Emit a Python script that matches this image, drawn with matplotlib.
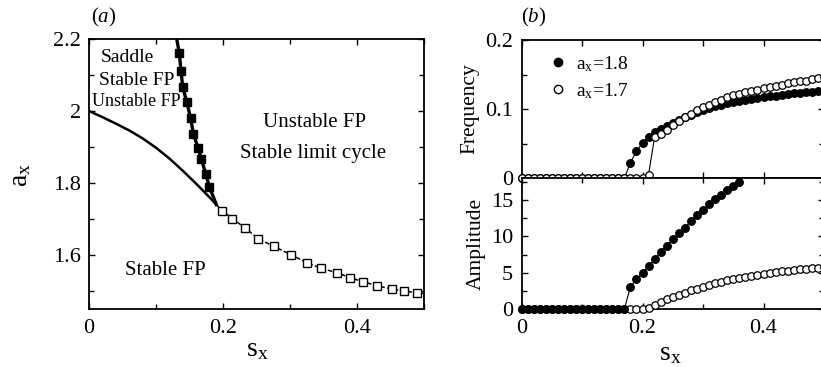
import matplotlib
matplotlib.use('Agg')
import matplotlib.pyplot as plt
from matplotlib.ticker import MultipleLocator, FuncFormatter
from matplotlib.lines import Line2D

plt.rcParams['font.family'] = ['Liberation Serif', 'DejaVu Serif']
plt.rcParams['mathtext.fontset'] = 'custom'
plt.rcParams['mathtext.rm'] = 'Liberation Serif'
plt.rcParams['mathtext.it'] = 'Liberation Serif:italic'

# ---------------- data: panel (a) ----------------
# lower solid boundary
s_lower = [0.0, 0.02, 0.04, 0.06, 0.08, 0.10, 0.12, 0.14, 0.16, 0.18, 0.19]
a_lower = [2.0, 1.983, 1.965, 1.946, 1.924, 1.898, 1.868, 1.834, 1.798, 1.760, 1.740]
# steep boundary with filled squares (first/last are line end points)
s_steep = [0.1305, 0.1348, 0.1373, 0.1398, 0.1458, 0.1517, 0.1557, 0.1627, 0.1676, 0.1741, 0.1796, 0.19]
a_steep = [2.205, 2.160, 2.1125, 2.0675, 2.0255, 1.980, 1.937, 1.898, 1.868, 1.826, 1.790, 1.740]
# dashed boundary with open squares (first/last are line end points)
s_dash = [0.19, 0.198, 0.214, 0.233, 0.2527, 0.2761, 0.3015, 0.3249, 0.3463, 0.3697, 0.3896,
          0.4094, 0.4294, 0.4518, 0.4706, 0.490, 0.50]
a_dash = [1.740, 1.7236, 1.7013, 1.675, 1.6453, 1.6238, 1.6006, 1.579, 1.5631, 1.551, 1.537,
          1.5259, 1.5147, 1.5055, 1.4999, 1.4951, 1.493]

# ---------------- data: panel (b) ----------------
s_b = [round(0.01 * i, 2) for i in range(51)]
# a_x = 1.8 (filled)
freq_18 = [0.0] * 18 + [0.022, 0.039, 0.051, 0.060, 0.0665, 0.071, 0.0755, 0.080, 0.084, 0.088,
                        0.0915, 0.095, 0.099, 0.1015, 0.104, 0.106, 0.108, 0.110, 0.1115, 0.113,
                        0.1145, 0.116, 0.1172, 0.1183, 0.1194, 0.1205, 0.1215, 0.1225, 0.1233,
                        0.1241, 0.1248, 0.1255, 0.126]
amp_18 = [0.0] * 18 + [3.1, 4.1, 5.0, 5.95, 6.9, 7.9, 8.7, 9.6, 10.4, 11.2, 12.1, 12.9, 13.6,
                       14.4, 15.1, 15.7, 16.3, 16.9, 17.5]
s_amp18 = s_b[:len(amp_18)]
# a_x = 1.7 (open)
freq_17 = [0.0] * 21 + [0.005, 0.0595, 0.064, 0.070, 0.0763, 0.082, 0.0884, 0.0932, 0.098,
                        0.1023, 0.1062, 0.1096, 0.1134, 0.1168, 0.1197, 0.1216, 0.124, 0.126,
                        0.1279, 0.1298, 0.1318, 0.1337, 0.1351, 0.1375, 0.139, 0.1399, 0.1413,
                        0.1433, 0.1446, 0.146]
amp_17 = [0.0] * 21 + [0.15, 0.6, 1.0, 1.35, 1.7, 2.0, 2.3, 2.6, 2.85, 3.1, 3.35, 3.55, 3.75,
                       3.95, 4.15, 4.3, 4.45, 4.6, 4.75, 4.9, 5.0, 5.1, 5.2, 5.3, 5.4, 5.48,
                       5.56, 5.63, 5.7, 5.76]

region_labels = ["Saddle", "Stable FP", "Unstable FP", "Unstable FP", "Stable limit cycle", "Stable FP"]
region_pos = [(0.0577, 2.149, 14), (0.0716, 2.086, 14), (0.0712, 2.026, 13),
              (0.337, 1.967, 15), (0.335, 1.881, 15), (0.1144, 1.556, 15)]

W, H = 821, 367
fig = plt.figure(figsize=(W / 100, H / 100), dpi=100)

def px_axes(x0, x1, y0, y1):
    return fig.add_axes([x0 / W, 1 - y1 / H, (x1 - x0) / W, (y1 - y0) / H])

fmt = FuncFormatter(lambda v, p: '%g' % round(v, 6))

def style(ax, xpad=7, ypad=6):
    ax.tick_params(which='both', direction='in', top=True, right=True, labelsize=16, width=1.0)
    ax.tick_params(which='major', length=4.5)
    ax.tick_params(which='minor', length=3.5)
    ax.tick_params(axis='x', pad=xpad)
    ax.tick_params(axis='y', pad=ypad)
    for sp in ax.spines.values():
        sp.set_linewidth(1.3)

# ---------- panel (a) ----------
axa = px_axes(89, 424, 39, 309)
axa.plot(s_lower, a_lower, color='black', lw=1.8, solid_capstyle='butt')
axa.plot(s_steep, a_steep, color='black', lw=2.4, marker='s', ms=5.5, mfc='black', mec='black',
         markevery=list(range(1, len(s_steep) - 1)))
axa.plot(s_dash, a_dash, color='black', lw=1.1, ls=(0, (3, 1.5)), marker='s', ms=5.8, mfc='white',
         mec='black', mew=1.0, markevery=list(range(1, len(s_dash) - 1)))
axa.set_xlim(0, 0.5)
axa.set_ylim(1.45, 2.2)
axa.xaxis.set_major_locator(MultipleLocator(0.2))
axa.xaxis.set_minor_locator(MultipleLocator(0.1))
axa.yaxis.set_major_locator(MultipleLocator(0.2))
axa.yaxis.set_minor_locator(MultipleLocator(0.1))
axa.xaxis.set_major_formatter(fmt)
axa.yaxis.set_major_formatter(fmt)
style(axa)
for txt, (x, y, fs) in zip(region_labels, region_pos):
    axa.text(x, y, txt, ha='center', va='center', fontsize=fs)
fig.text(257 / W, 1 - 350 / H, r'$\mathregular{s_x}$', ha='center', va='center', fontsize=20)
fig.text(21 / W, 1 - 175 / H, r'$\mathregular{a_x}$', ha='center', va='center', fontsize=20,
         rotation=90)
fig.text(104 / W, 1 - 17 / H, r'($\mathit{a}$)', ha='center', va='center', fontsize=15)

# ---------- panel (b) top: frequency ----------
axf = px_axes(521.5, 824, 40, 178)
axf.plot(s_b, freq_18, color='black', lw=0.8, marker='o', ms=5.4, mfc='black', mec='black',
         clip_on=False, zorder=3)
axf.plot(s_b, freq_17, color='black', lw=0.8, marker='o', ms=5.4, mfc='white', mec='black',
         mew=0.9, clip_on=False, zorder=4)
axf.set_xlim(0, 0.5)
axf.set_ylim(0, 0.2)
axf.xaxis.set_major_locator(MultipleLocator(0.1))
axf.yaxis.set_major_locator(MultipleLocator(0.1))
axf.yaxis.set_minor_locator(MultipleLocator(0.05))
axf.yaxis.set_major_formatter(fmt)
style(axf)
axf.tick_params(axis='x', labelbottom=False)
axf.set_ylabel('Frequency', fontsize=15.5, labelpad=4)
leg_handles = [Line2D([], [], ls='none', marker='o', ms=6, mfc='black', mec='black'),
               Line2D([], [], ls='none', marker='o', ms=6, mfc='white', mec='black')]
axf.legend(leg_handles, [r'$\mathregular{a_x}$=1.8', r'$\mathregular{a_x}$=1.7'],
           loc='upper left', bbox_to_anchor=(0.05, 0.995), frameon=False, fontsize=14,
           handlelength=0.8, handletextpad=0.5, labelspacing=0.35, borderpad=0.2)
fig.text(534 / W, 1 - 17 / H, r'($\mathit{b}$)', ha='center', va='center', fontsize=15)

# ---------- panel (b) bottom: amplitude ----------
axm = px_axes(521.5, 824, 178, 309.3)
axm.plot(s_b, amp_17, color='black', lw=0.8, marker='o', ms=5.4, mfc='white', mec='black',
         mew=0.9, clip_on=False, zorder=3)
axm.plot(s_amp18, amp_18, color='black', lw=0.8, marker='o', ms=5.4, mfc='black', mec='black',
         clip_on=False, zorder=4)
axm.set_xlim(0, 0.5)
axm.set_ylim(0, 18)
axm.xaxis.set_major_locator(MultipleLocator(0.2))
axm.xaxis.set_minor_locator(MultipleLocator(0.1))
axm.yaxis.set_major_locator(MultipleLocator(5))
axm.yaxis.set_minor_locator(MultipleLocator(2.5))
axm.xaxis.set_major_formatter(fmt)
axm.yaxis.set_major_formatter(fmt)
style(axm)
axm.set_ylabel('Amplitude', fontsize=15.5, labelpad=4)
fig.text(670 / W, 1 - 354 / H, r'$\mathregular{s_x}$', ha='center', va='center', fontsize=20)

fig.savefig('out.png', dpi=100)
